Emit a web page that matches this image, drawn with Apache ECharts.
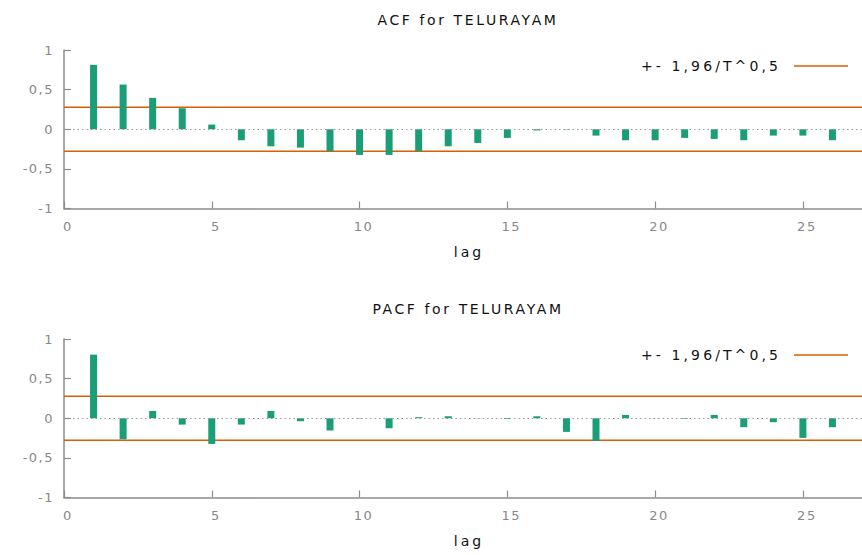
<!DOCTYPE html>
<html>
<head>
<meta charset="utf-8">
<script src="https://cdn.jsdelivr.net/npm/echarts@6/dist/echarts.min.js"></script>
<style>
  html, body { margin: 0; padding: 0; background: #fff; }
  #chart { width: 862px; height: 555px; }
  /* wide, GDI-like text spacing */
  #chart text { letter-spacing: 1.5px; }
  #chart text.wide { letter-spacing: 2.6px; }
  #chart text.wider { letter-spacing: 3.1px; }
</style>
</head>
<body>
<div id="chart"></div>
<script>
// Correlogram of TELURAYAM: autocorrelation (top) and partial autocorrelation (bottom)
const lags = [1, 2, 3, 4, 5, 6, 7, 8, 9, 10, 11, 12, 13, 14, 15, 16, 17, 18, 19, 20, 21, 22, 23, 24, 25, 26];
const acfValues = [0.813, 0.564, 0.396, 0.265, 0.059, -0.139, -0.215, -0.232, -0.278, -0.324, -0.324, -0.278, -0.215,
                   -0.173, -0.109, -0.015, -0.005, -0.080, -0.139, -0.139, -0.109, -0.122, -0.139, -0.080, -0.080, -0.139];
const pacfValues = [0.803, -0.265, 0.092, -0.080, -0.324, -0.080, 0.092, -0.038, -0.155, -0.005, -0.126, 0.013, 0.025,
                    0.003, -0.010, 0.025, -0.172, -0.286, 0.042, 0.002, -0.008, 0.042, -0.113, -0.050, -0.248, -0.113];
const confBand = 0.2772;          // 1.96 / sqrt(T)
const lagRange = [0, 27];
const yTicks = [-1, -0.5, 0, 0.5, 1];
const titles = ['ACF for TELURAYAM', 'PACF for TELURAYAM'];
const axisName = 'lag';
const bandName = '+- 1,96/T^0,5';

const FONT = 'DejaVu Sans';
const GREEN = '#1b9e77';
const ORANGE = '#d95f02';
const AXIS = '#8c8c8c';

const fmtComma = v => String(v).replace('.', ',');

const gridTops = [50, 339];
const plotH = 158.5;
const plotLeft = 64;
const plotW = 806.5;              // 27 lags at ~29.9 px each; right edge runs past the canvas

const chart = echarts.init(document.getElementById('chart'), null, { renderer: 'svg' });

const grids = [], xAxes = [], yAxes = [], series = [], legends = [], titleList = [];

[acfValues, pacfValues].forEach((vals, i) => {
  grids.push({ left: plotLeft, width: plotW, top: gridTops[i], height: plotH, containLabel: false });

  xAxes.push({
    type: 'value', gridIndex: i, min: lagRange[0], max: lagRange[1], interval: 5,
    name: axisName, nameLocation: 'middle', nameGap: 36,
    nameTextStyle: { fontFamily: FONT, fontSize: 14, color: '#111', padding: [0, 0, 0, 12] },
    axisLine: { show: true, onZero: false, lineStyle: { color: AXIS, width: 1.5 } },
    axisTick: { show: true, inside: true, length: 7, lineStyle: { color: AXIS, width: 1.2 } },
    axisLabel: { fontFamily: FONT, fontSize: 13, color: '#888', margin: 11, padding: [0, 0, 0, 8],
                 showMaxLabel: false },
    splitLine: { show: false }
  });

  yAxes.push({
    type: 'value', gridIndex: i, min: yTicks[0], max: yTicks[yTicks.length - 1], interval: 0.5,
    axisLine: { show: true, onZero: false, lineStyle: { color: AXIS, width: 1.5 } },
    axisTick: { show: true, inside: true, length: 7, lineStyle: { color: AXIS, width: 1.2 } },
    axisLabel: { fontFamily: FONT, fontSize: 13, color: '#888', margin: 10, formatter: fmtComma },
    splitLine: { show: false }
  });

  series.push({
    type: 'bar', xAxisIndex: i, yAxisIndex: i, barWidth: 7,
    itemStyle: { color: GREEN },
    data: lags.map((l, k) => [l, vals[k]]),
    markLine: {
      silent: true, symbol: ['none', 'none'], label: { show: false },
      lineStyle: { color: '#999', width: 1, type: [1.5, 3] },
      data: [{ yAxis: 0 }]
    },
    z: 3
  });

  [confBand, -confBand].forEach(b => {
    series.push({
      type: 'line', name: bandName, xAxisIndex: i, yAxisIndex: i,
      symbol: 'none', showSymbol: false,
      lineStyle: { color: ORANGE, width: 1.6 }, itemStyle: { color: ORANGE },
      data: lagRange.map(x => [x, b]), z: 2
    });
  });

  legends.push({
    top: gridTops[i] + 9, right: 14, padding: 0, align: 'right', orient: 'horizontal',
    icon: 'rect', itemWidth: 54, itemHeight: 1.6, selectedMode: false,
    textStyle: { fontFamily: FONT, fontSize: 14, color: '#111', padding: [0, 8, 0, 0] },
    data: [bandName]
  });

  titleList.push({
    text: titles[i], left: 463, top: gridTops[i] - 42, textAlign: 'center',
    textStyle: { fontFamily: FONT, fontSize: 14, fontWeight: 'normal', color: '#111' }
  });
});

chart.setOption({
  animation: false,
  backgroundColor: '#fff',
  title: titleList,
  legend: legends,
  grid: grids,
  xAxis: xAxes,
  yAxis: yAxes,
  series: series
});

// titles, axis name and legend text get wider spacing than tick labels
const wideTexts = new Set(titles);
const widerTexts = new Set([axisName, bandName]);
function widenTexts() {
  document.querySelectorAll('#chart text').forEach(t => {
    const s = t.textContent.trim();
    if (wideTexts.has(s)) t.classList.add('wide');
    if (widerTexts.has(s)) t.classList.add('wider');
  });
}
chart.on('finished', widenTexts);
widenTexts();
</script>
</body>
</html>
